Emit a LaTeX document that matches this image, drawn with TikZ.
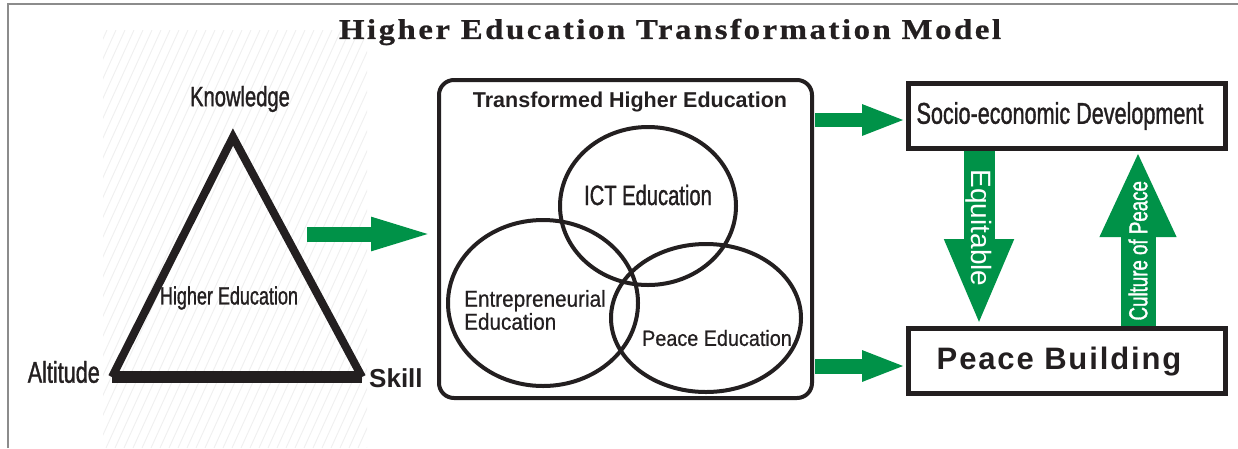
\documentclass[tikz,border=0pt]{standalone}
\usepackage{fontspec}
\setmainfont{Liberation Sans}
\newfontfamily\narrowfont[FakeStretch=0.72, FakeBold=1.2]{Liberation Sans}
\newfontfamily\midfont[FakeStretch=0.9, FakeBold=0.6]{Liberation Sans}
\newfontfamily\titlefont[FakeStretch=1.15, FakeBold=0.8, LetterSpace=9]{Liberation Serif}
\newfontfamily\spacedfont[LetterSpace=6]{Liberation Sans}
\usetikzlibrary{arrows.meta,positioning,shapes.geometric}
\definecolor{arrowgreen}{RGB}{0,146,72}
\definecolor{inkgray}{RGB}{35,31,32}

\begin{document}
\begin{tikzpicture}[x=1pt, y=-1pt,
    every node/.style={
        inner sep=0pt,
        text=inkgray
    },
    narrowlabel/.style={font=\narrowfont\fontsize{#1}{#1}\selectfont},
    midlabel/.style={font=\midfont\fontsize{#1}{#1}\selectfont},
    outcomebox/.style={
        rectangle,
        draw=inkgray,
        line width=5,
        minimum width=317,
        minimum height=65
    },
    venn/.style={draw=inkgray, line width=4},
    fatarrow/.style n args={3}{
        draw=arrowgreen,
        line width=#1,
        -{Triangle[length=#2, width=#3]}
    },
    hatch/.style={black!6, line width=1}
]
    \useasboundingbox (0,0) rectangle (1238,448);
    % faint hatching behind the triangle
    \begin{scope}
        \clip (103,30) rectangle (367,448);
        \foreach \hx in {-200,-191,...,370}
            \draw[hatch] (\hx,448) -- ++(190,-418);
    \end{scope}
    \draw[black!45, line width=2] (8,448) -- (8,4) -- (1238,4);

    \node (title) [shift={(670,32)}]
    {
        \titlefont\bfseries\fontsize{28.5}{28.5}\selectfont Higher Education Transformation Model
    };

    % triangle
    \coordinate (apex) at (233,137);
    \coordinate (altitude_corner) at (112,377);
    \coordinate (skill_corner) at (362,377);
    \draw[inkgray, line width=8, line join=miter] (altitude_corner) -- (apex) -- (skill_corner);
    \draw[inkgray, line width=12, line cap=square] (altitude_corner) -- (skill_corner);
    \node (knowledge) [narrowlabel=28, shift={(240,99)}] {Knowledge};
    \node (altitude) [narrowlabel=30, anchor=east, shift={(100,372)}] {Altitude};
    \node (skill) [font=\bfseries\fontsize{26}{26}\selectfont, anchor=west, shift={(369,378)}] {Skill};
    \node (higher_education) [narrowlabel=25, shift={(229,298)}] {Higher Education};

    % transformed higher education
    \node (transformed_box) [draw=inkgray, line width=4, rounded corners=15,
        minimum width=373, minimum height=318, shift={(625.5,239)}] {};
    \node (transformed_title) [font=\bfseries\fontsize{21.5}{21.5}\selectfont, shift={(630,102)}]
    {
        Transformed Higher Education
    };
    \draw[venn] (648,206) ellipse [x radius=88, y radius=79];
    \draw[venn] (543,303) ellipse [x radius=95, y radius=83];
    \draw[venn] (706,318) ellipse [x radius=95, y radius=74];
    \node (ict_education) [narrowlabel=28, shift={(648,195)}] {ICT Education};
    \node (entrepreneurial_education) [midlabel=23, align=left, anchor=west, shift={(464,310)}]
    {
        Entrepreneurial\\Education
    };
    \node (peace_education) [midlabel=22, shift={(717,338)}] {Peace Education};

    % outcomes
    \node (socio_economic) [outcomebox, shift={(1067,116)}] {};
    \node (socio_economic_text) [narrowlabel=30, shift={(1060,116)}] {Socio-economic Development};
    \node (peace_building) [outcomebox, shift={(1067,361)}] {};
    \node (peace_building_text) [font=\spacedfont\bfseries\fontsize{31}{31}\selectfont, shift={(1059,362)}]
    {
        Peace Building
    };

    % arrows
    \coordinate (triangle_out) at (307,234);
    \draw[fatarrow={15}{66pt}{29pt}] (triangle_out) -- (transformed_box.west |- triangle_out);
    \draw[fatarrow={14}{44pt}{28pt}] (transformed_box.east |- socio_economic) ++(1,4) -- (socio_economic.west |- 0,120);
    \draw[fatarrow={15}{44pt}{28pt}] (transformed_box.east |- peace_building) ++(1,5) -- (peace_building.west |- 0,366);
    \draw[fatarrow={31}{87pt}{63pt}] (socio_economic.south -| 979,0) -- (peace_building.north -| 979,0)
        node [pos=0.44, rotate=-90, text=white, font=\fontsize{28}{28}\selectfont] {Equitable};
    \draw[fatarrow={35}{86pt}{70pt}] (peace_building.north -| 1138,0) -- (socio_economic.south -| 1138,0)
        node [pos=0.43, rotate=90, text=white, narrowlabel=26] {Culture of Peace};
\end{tikzpicture}
\end{document}
